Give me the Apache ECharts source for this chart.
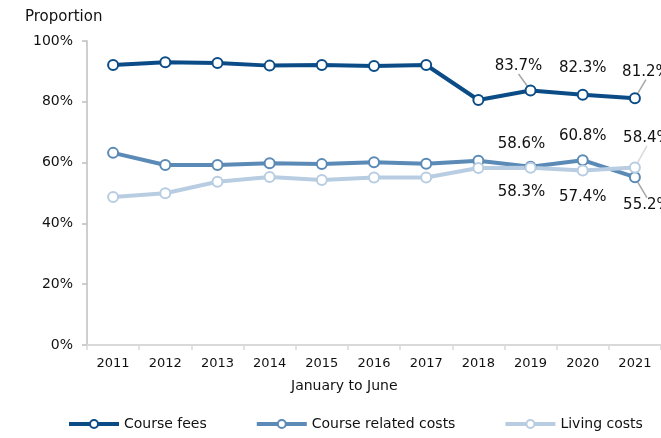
<!DOCTYPE html>
<html>
<head>
<meta charset="utf-8">
<script src="https://cdn.jsdelivr.net/npm/echarts@6/dist/echarts.min.js"></script>
<style>
  html, body { margin: 0; padding: 0; background: #fff; }
  #main { width: 661px; height: 438px; }
</style>
</head>
<body>
<div id="main"></div>
<script>
// data
const years = ['2011', '2012', '2013', '2014', '2015', '2016', '2017', '2018', '2019', '2020', '2021'];
const courseFees = [92.1, 93.0, 92.8, 91.9, 92.1, 91.8, 92.1, 80.6, 83.7, 82.3, 81.2];
const courseRelated = [63.2, 59.2, 59.2, 59.8, 59.5, 60.1, 59.6, 60.6, 58.6, 60.8, 55.2];
const livingCosts = [48.7, 49.9, 53.7, 55.3, 54.3, 55.1, 55.1, 58.2, 58.3, 57.4, 58.4];
const labelledYears = ['2019', '2020', '2021'];

// label offsets from the point (dx, dy), per series for the labelled years
const labelOffsets = [
  [[-12, -24], [0, -27], [11, -26]],
  [[-9, -23], [0, -24], [12, 28]],
  [[-9, 24], [0, 27], [12, -29]]
];
// which labels get a small leader line
const leaderLines = [
  [true, false, true],
  [false, false, true],
  [false, false, true]
];
const leaderColors = ['#a6a6a6', '#a6a6a6', '#d9d9d9'];

const colors = ['#0b4c87', '#5a8ab5', '#b8cde1'];
const names = ['Course fees', 'Course related costs', 'Living costs'];
const values = [courseFees, courseRelated, livingCosts];

const font = "'DejaVu Sans', Verdana, sans-serif";
const textColor = '#111';

function buildData(arr, si) {
  return arr.map(function (v, i) {
    const k = labelledYears.indexOf(years[i]);
    if (k < 0) return v;
    return {
      value: v,
      label: { show: true },
      labelLine: { show: leaderLines[si][k], lineStyle: { color: leaderColors[si], width: 1.5 } }
    };
  });
}

const myChart = echarts.init(document.getElementById('main'));
const option = {
  animation: false,
  title: [
    { text: 'Proportion', left: 20, top: 5, textStyle: { fontFamily: font, fontSize: 15, fontWeight: 'normal', color: textColor } },
    { text: 'January to June', left: 286, top: 374, textStyle: { fontFamily: font, fontSize: 14, fontWeight: 'normal', color: textColor } }
  ],
  grid: { left: 87, right: 0, top: 41, bottom: 93 },
  legend: {
    left: 62,
    top: 412,
    itemWidth: 50,
    itemHeight: 10,
    itemGap: 48,
    lineStyle: { width: 4 },
    itemStyle: { borderWidth: 3 },
    textStyle: { fontFamily: font, fontSize: 14, color: textColor },
    data: names
  },
  xAxis: {
    type: 'category',
    data: years,
    boundaryGap: true,
    axisLine: { lineStyle: { color: '#d9d9d9', width: 2 } },
    axisTick: { show: true, length: 5, lineStyle: { color: '#d9d9d9', width: 1.5 } },
    axisLabel: { fontFamily: font, fontSize: 13, color: textColor, margin: 12 }
  },
  yAxis: {
    type: 'value',
    min: 0,
    max: 100,
    interval: 20,
    axisLine: { show: true, lineStyle: { color: '#bfbfbf', width: 1.5 } },
    axisTick: { show: true, length: 5, lineStyle: { color: '#bfbfbf', width: 1.5 } },
    splitLine: { show: false },
    axisLabel: { fontFamily: font, fontSize: 14, color: textColor, margin: 14, formatter: '{value}%' }
  },
  series: values.map(function (arr, si) {
    return {
      name: names[si],
      type: 'line',
      data: buildData(arr, si),
      symbol: 'emptyCircle',
      symbolSize: 10,
      color: colors[si],
      lineStyle: { width: 4, color: colors[si] },
      itemStyle: { color: colors[si], borderWidth: 3.5 },
      label: {
        show: false,
        position: 'inside',
        fontFamily: font,
        fontSize: 15,
        color: textColor,
        formatter: function (p) { return p.value.toFixed(1) + '%'; }
      },
      labelLayout: function (p) {
        const k = labelledYears.indexOf(years[p.dataIndex]);
        if (k < 0) return {};
        const off = labelOffsets[p.seriesIndex][k];
        return { dx: off[0], dy: off[1] };
      }
    };
  })
};
myChart.setOption(option);
window.addEventListener('resize', function () {
  myChart.resize();
});
</script>
</body>
</html>
